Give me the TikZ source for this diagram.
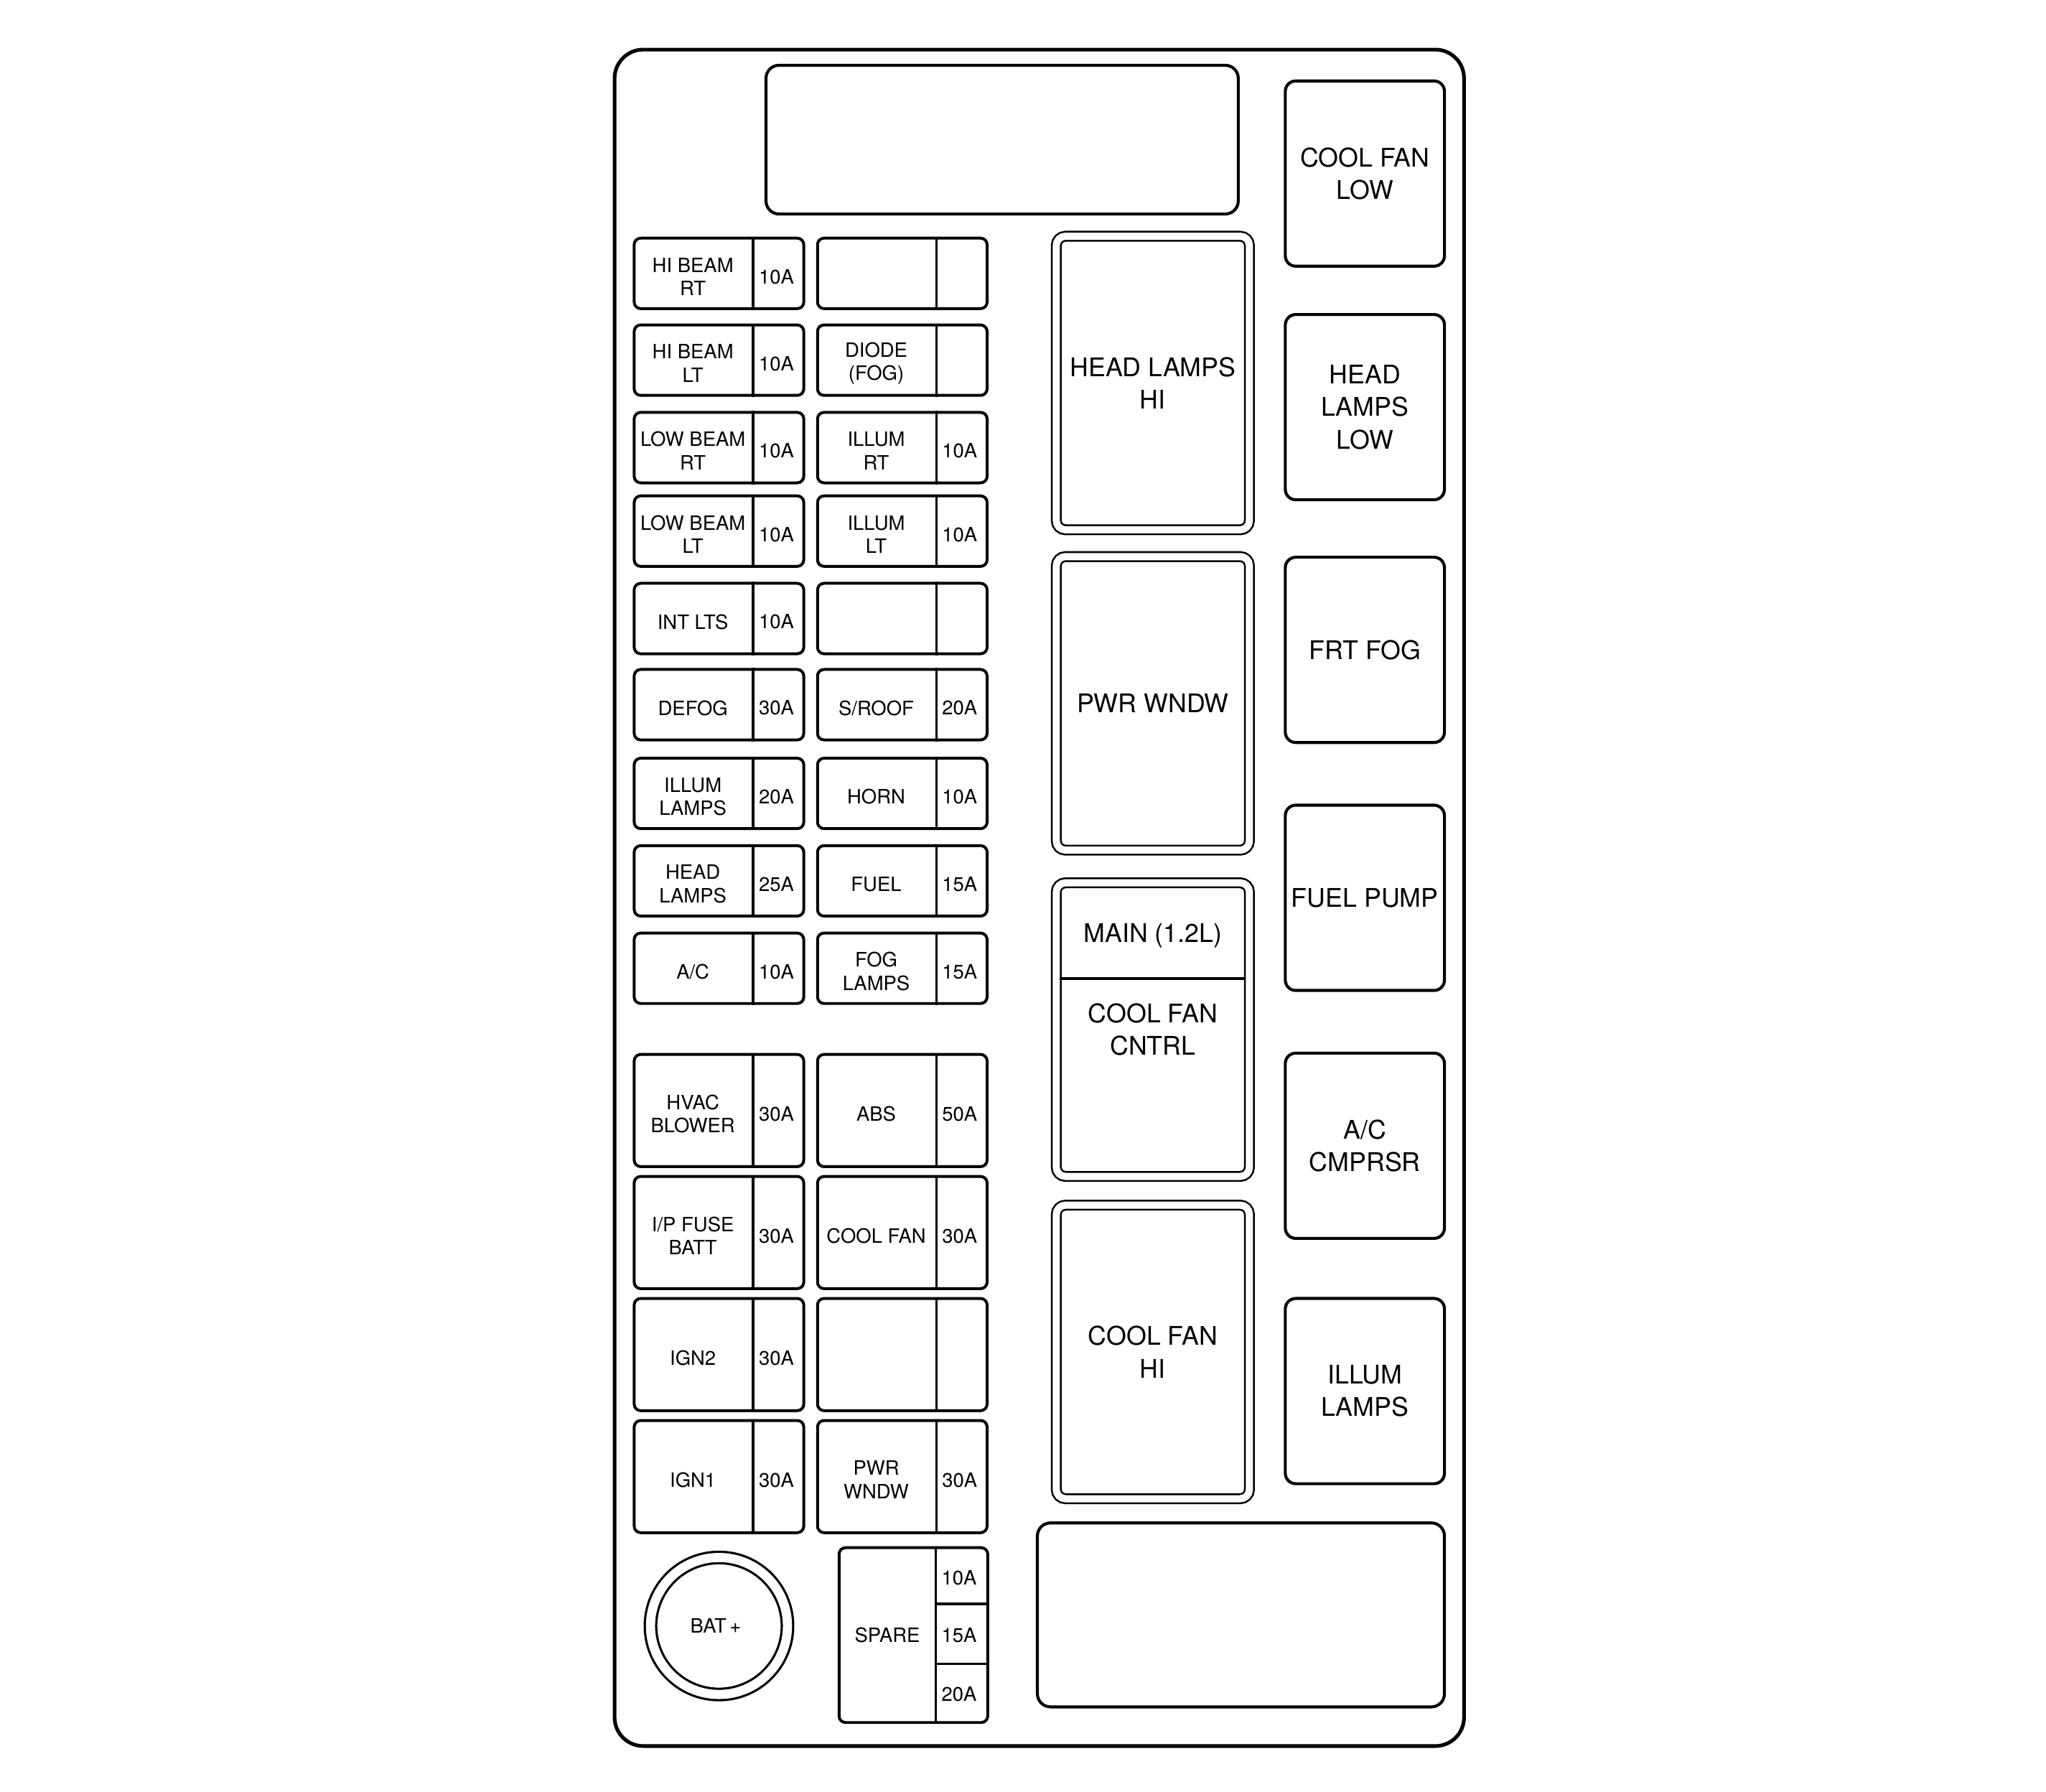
\documentclass[tikz,border=0pt]{standalone}
\usepackage{fontspec}
\setmainfont{TeX Gyre Heros}
\usetikzlibrary{positioning}

\begin{document}
\begin{tikzpicture}[
    x=0.02cm, y=-0.02cm,
    every node/.style={align=center, inner sep=0pt},
    frame/.style={draw, line width=1.6pt, rounded corners=0.44cm},
    blank/.style={draw, line width=1.3pt, rounded corners=0.2cm},
    relay/.style={
        draw,
        line width=1.3pt,
        rounded corners=0.16cm,
        minimum width=2.44cm,
        minimum height=2.84cm,
        font=\fontsize{11.2}{14.2}\selectfont
    },
    dblbox/.style={
        draw,
        double,
        line width=0.8pt,
        double distance=0.11cm,
        rounded corners=0.14cm,
        minimum width=2.96cm,
        minimum height=4.5cm,
        font=\fontsize{11.2}{14.2}\selectfont
    },
    bigtext/.style={font=\fontsize{11.2}{14.2}\selectfont},
    fusebody/.style={draw, line width=1.25pt, rounded corners=0.1cm, minimum width=2.6cm},
    smalltext/.style={font=\fontsize{8.6}{10.2}\selectfont},
    fusetext/.style={smalltext, yshift=-0.05cm},
    divider/.style={line width=1.1pt},
    pics/fuse/.style n args={3}{code={
        \node[fusebody, minimum height=#1] (-body) {};
        \draw[divider] ([xshift=-0.8cm]-body.north east) -- ([xshift=-0.8cm]-body.south east);
        \node[fusetext] (-name) at ([xshift=-0.4cm]-body.center) {#2};
        \node[fusetext] (-amp) at ([xshift=0.88cm]-body.center) {#3};
    }}
]
\useasboundingbox (0,0) rectangle (1568,1373);

% Housing and empty sockets
\draw[frame] (471,38) rectangle (1122,1338);
\node[blank, minimum width=7.24cm, minimum height=2.28cm] (topblank) at (768,107) {};
\node[blank, minimum width=6.24cm, minimum height=2.82cm] (botblank) at (951,1237.5) {};

% Mini fuses, left column
\pic (hibeamrt)  at (551,209.5) {fuse={1.08cm}{HI BEAM\\RT}{10A}};
\pic (hibeamlt)  at (551,276)   {fuse={1.08cm}{HI BEAM\\LT}{10A}};
\pic (lowbeamrt) at (551,343)   {fuse={1.08cm}{LOW BEAM\\RT}{10A}};
\pic (lowbeamlt) at (551,407)   {fuse={1.08cm}{LOW BEAM\\LT}{10A}};
\pic (intlts)    at (551,474)   {fuse={1.08cm}{INT LTS}{10A}};
\pic (defog)     at (551,540)   {fuse={1.08cm}{DEFOG}{30A}};
\pic (illumlmp)  at (551,608)   {fuse={1.08cm}{ILLUM\\LAMPS}{20A}};
\pic (headlmp)   at (551,675)   {fuse={1.08cm}{HEAD\\LAMPS}{25A}};
\pic (ac)        at (551,742)   {fuse={1.08cm}{A/C}{10A}};

% Mini fuses, right column
\pic (spareA)    at (691.5,209.5) {fuse={1.08cm}{}{}};
\pic (diodefog)  at (691.5,276)   {fuse={1.08cm}{DIODE\\(FOG)}{}};
\pic (illumrt)   at (691.5,343)   {fuse={1.08cm}{ILLUM\\RT}{10A}};
\pic (illumlt)   at (691.5,407)   {fuse={1.08cm}{ILLUM\\LT}{10A}};
\pic (spareB)    at (691.5,474)   {fuse={1.08cm}{}{}};
\pic (sroof)     at (691.5,540)   {fuse={1.08cm}{S/ROOF}{20A}};
\pic (horn)      at (691.5,608)   {fuse={1.08cm}{HORN}{10A}};
\pic (fuel)      at (691.5,675)   {fuse={1.08cm}{FUEL}{15A}};
\pic (foglmp)    at (691.5,742)   {fuse={1.08cm}{FOG\\LAMPS}{15A}};

% Maxi fuses
\pic (hvac)      at (551,851)      {fuse={1.72cm}{HVAC\\BLOWER}{30A}};
\pic (ipbatt)    at (551,944.5)    {fuse={1.72cm}{I/P FUSE\\BATT}{30A}};
\pic (ign2)      at (551,1038)     {fuse={1.72cm}{IGN2}{30A}};
\pic (ign1)      at (551,1131.5)   {fuse={1.72cm}{IGN1}{30A}};
\pic (abs)       at (691.5,851)    {fuse={1.72cm}{ABS}{50A}};
\pic (coolfan)   at (691.5,944.5)  {fuse={1.72cm}{COOL FAN}{30A}};
\pic (spareC)    at (691.5,1038)   {fuse={1.72cm}{}{}};
\pic (pwrwndwF)  at (691.5,1131.5) {fuse={1.72cm}{PWR\\WNDW}{30A}};

% Battery stud
\node[draw, circle, double, line width=1pt, double distance=0.14cm,
      minimum size=2.1cm, smalltext] (batplus) at (551,1246) {BAT\,+\hspace*{0.1cm}};

% Spare fuse holder
\node[fusebody, minimum width=2.28cm, minimum height=2.68cm] (spare) at (700,1253) {};
\draw[divider] ([xshift=-0.82cm]spare.north east) -- ([xshift=-0.82cm]spare.south east);
\draw[divider] ([yshift=0.48cm]spare.east) -- ++(-0.82cm,0);
\draw[divider] ([yshift=-0.44cm]spare.east) -- ++(-0.82cm,0);
\node[smalltext] (sparelbl) at ([xshift=-0.4cm]spare.center) {SPARE};
\node[smalltext] (spare10) at ([xshift=0.7cm, yshift=0.88cm]spare.center) {10A};
\node[smalltext] (spare15) at ([xshift=0.7cm]spare.center) {15A};
\node[smalltext] (spare20) at ([xshift=0.7cm, yshift=-0.9cm]spare.center) {20A};

% Large relays (double outline)
\node[dblbox] (hlhi)    at (883.5,293.5) {HEAD LAMPS\\HI};
\node[dblbox] (pwrwndw) at (883.5,539)   {PWR WNDW};
\node[dblbox] (mainfan) at (883.5,789)   {};
\node[dblbox] (fanhi)   at (883.5,1036)  {COOL FAN\\HI};
\draw[divider] ([xshift=0.07cm, yshift=0.78cm]mainfan.west) -- ([xshift=-0.07cm, yshift=0.78cm]mainfan.east);
\node[bigtext] (mainlbl)  at (883.5,717)   {MAIN (1.2L)};
\node[bigtext] (fancntrl) at (883.5,789) {COOL FAN\\CNTRL};

% Relays, right column
\node[relay] (fanlow)  at (1046,133)  {COOL FAN\\LOW};
\node[relay] (hllow)   at (1046,312)  {HEAD\\LAMPS\\LOW};
\node[relay] (frtfog)  at (1046,498)  {FRT FOG};
\node[relay] (fuelpmp) at (1046,688)  {FUEL PUMP};
\node[relay] (accomp)  at (1046,878)  {A/C\\CMPRSR};
\node[relay] (illumR)  at (1046,1066) {ILLUM\\LAMPS};

\end{tikzpicture}
\end{document}
